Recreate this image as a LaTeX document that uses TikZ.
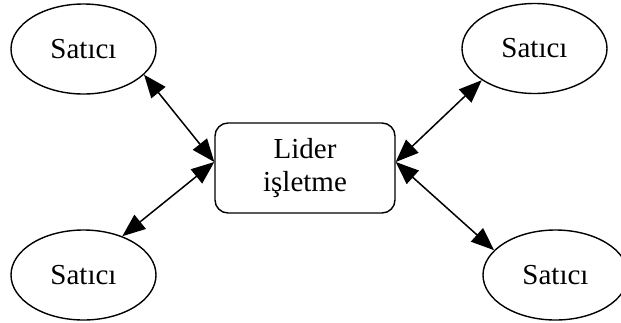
\documentclass[tikz,border=0pt]{standalone}
\usepackage{fontspec}
\setmainfont{Liberation Serif}
\usetikzlibrary{arrows.meta,shapes.geometric}
\begin{document}
\begin{tikzpicture}[x=1pt,y=-1pt,
  vendor/.style={ellipse,draw,line width=1.4pt,minimum width=145pt,minimum height=90pt,
    inner sep=0pt,font=\fontsize{29}{33}\selectfont},
  leader/.style={rectangle,rounded corners=13pt,draw,line width=1.4pt,minimum width=180pt,
    minimum height=90pt,align=center,font=\fontsize{29}{33}\selectfont},
  link/.style={line width=1.5pt,
    {Triangle[length=23pt,width=18pt]}-{Triangle[length=23pt,width=18pt]}}]
\useasboundingbox (0,0) rectangle (621,322);
\clip (0,0) rectangle (621,322);

% central firm
\node[leader] (lead) at (305,168) {Lider\\işletme};

% the four vendors
\node[vendor] (tl) at (83.5,49) {Satıcı};
\node[vendor] (bl) at (83.5,275) {Satıcı};
\node[vendor] (tr) at (534.5,48.5) {Satıcı};
\node[vendor] (br) at (555.5,275) {Satıcı};

% connection points on the sides of the box
\coordinate (lin) at ([yshift=6pt]lead.west);
\coordinate (rin) at ([yshift=6pt]lead.east);

% two-way links
\draw[link] (tl.-23) -- (lin);
\draw[link] (bl.45) -- (lin);
\draw[link] (tr.211) -- (rin);
\draw[link] (br.158) -- (rin);
\end{tikzpicture}
\end{document}
